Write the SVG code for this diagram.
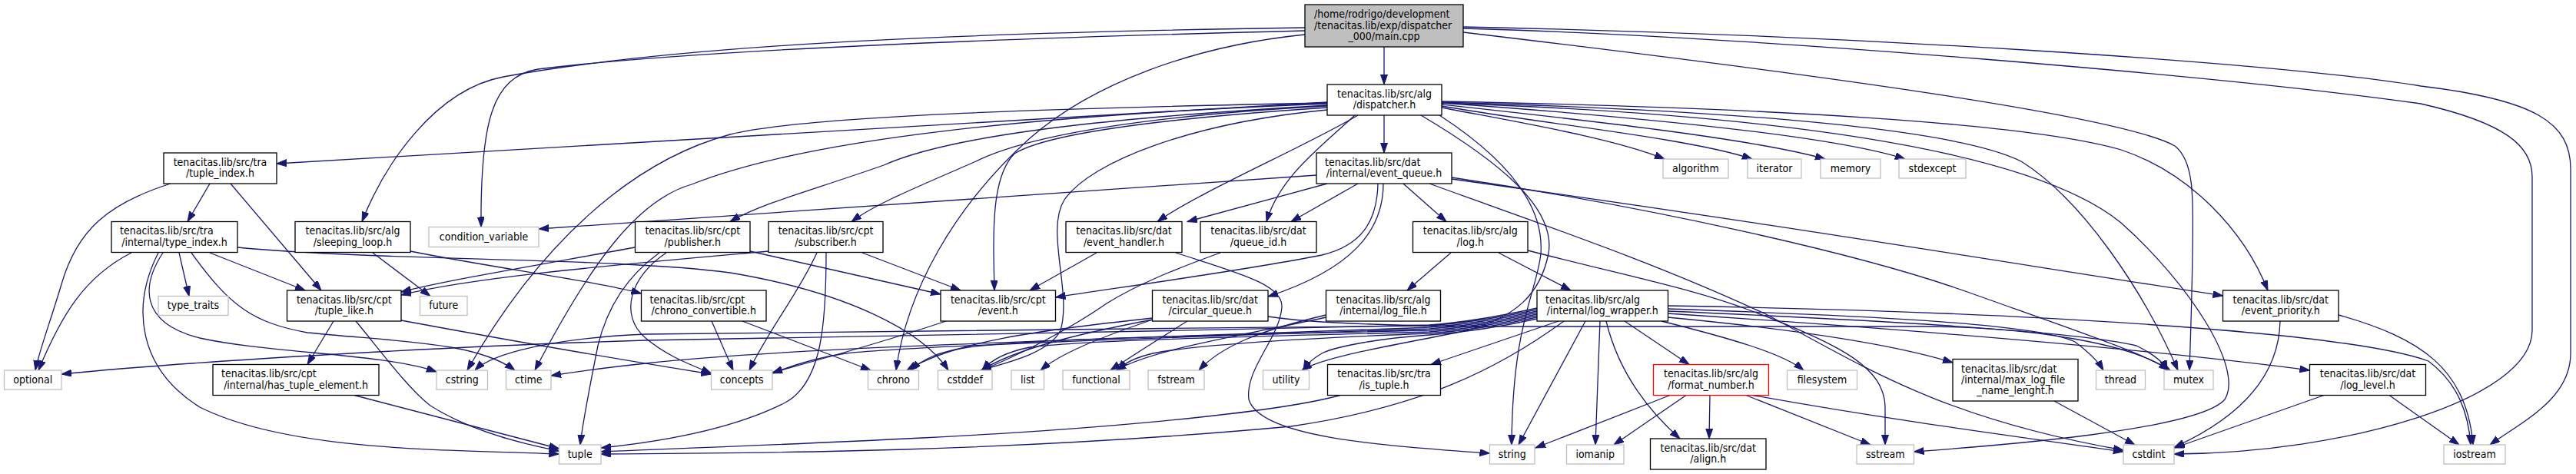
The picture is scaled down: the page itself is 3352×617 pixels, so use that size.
<svg xmlns="http://www.w3.org/2000/svg" width="3352" height="617" viewBox="0 0 3352 617">
<defs>
<style>
.n{fill:#fff;stroke:#000;stroke-width:1.3}
.x{fill:#fff;stroke:#bfbfbf;stroke-width:1.3}
.m{fill:#bfbfbf;stroke:#000;stroke-width:1.3}
.r{fill:#fff;stroke:#f00;stroke-width:1.3}
text{font-family:"DejaVu Sans Condensed","DejaVu Sans","Liberation Sans",sans-serif;font-stretch:condensed;font-size:14px;fill:#000}
.c{text-anchor:middle}
#edges path{fill:none;stroke:#191970;stroke-width:1.3;marker-end:url(#a)}
</style>
<marker id="a" markerUnits="userSpaceOnUse" markerWidth="14" markerHeight="10" refX="13" refY="4.5" orient="auto"><path d="M0,0L13,4.5L0,9z" fill="#191970" stroke="#191970" stroke-width="1"/></marker>
</defs>
<rect width="3352" height="617" fill="#fff"/>
<g id="edges">
<path d="M1801,61 L1801,110"/>
<path d="M1698,36 C1300,42 900,55 655,100 C565,117 500,215 471,288.5"/>
<path d="M1698,40 C1300,50 900,65 700,90 C640,100 625,160 626,295.5"/>
<path d="M1698,45 C1550,60 1420,110 1340,180 C1240,270 1180,380 1166,482"/>
<path d="M1904,42 C2350,95 2760,150 2830,190 C2856,210 2854,260 2853,330 C2852,400 2850,450 2849,482"/>
<path d="M1904,37 C2300,48 2900,100 3150,135 C3260,160 3295,190 3295,230 L3295,430 C3295,520 3050,590 2829,591"/>
<path d="M1904,35 C2400,45 2950,80 3150,112 C3300,130 3345,160 3345,220 L3345,460 C3345,520 3280,550 3240,579"/>
<path d="M1801,150 L1801,199"/>
<path d="M1727,133 L360,213"/>
<path d="M1727,134 C1400,140 1050,150 950,175 C820,210 700,320 608,482"/>
<path d="M1727,135 C1350,150 1050,180 900,240 C830,260 770,340 696,482"/>
<path d="M1727,137 C1500,150 1250,170 1150,215 C1050,250 990,265 950,288.5"/>
<path d="M1727,138 C1500,150 1340,175 1270,210 C1190,245 1140,265 1108,288.5"/>
<path d="M1727,140 C1500,155 1360,175 1320,200 C1290,230 1292,300 1294,378"/>
<path d="M1727,143 C1550,160 1420,210 1385,260 C1360,300 1395,380 1380,430 C1365,460 1310,472 1276,482"/>
<path d="M1767,150 C1700,190 1560,250 1506,288.5"/>
<path d="M1763,150 C1720,190 1665,230 1648,288.5"/>
<path d="M1876,140 C1980,160 2100,180 2166,207"/>
<path d="M1876,138 C2000,160 2200,180 2280,207"/>
<path d="M1876,136 C2050,155 2280,180 2375,207"/>
<path d="M1876,134 C2100,150 2380,175 2479,207"/>
<path d="M1876,132 C2300,140 2640,160 2760,195 C2850,225 2920,300 2951,378"/>
<path d="M1876,133 C2300,145 2550,170 2630,210 C2710,260 2790,380 2834,482"/>
<path d="M1876,134 C2350,150 2650,200 2760,290 C2850,370 2920,480 2895,520 C2860,560 2600,580 2490.5,588"/>
<path d="M1873,150 C1950,200 2010,260 2005,330 C2000,380 1968,420 1967,579"/>
<path d="M1849,150 C1950,210 2025,270 2015,330 C2005,380 1975,415 1900,432 C1800,452 1720,465 1694,482"/>
<path d="M1713,228 L701,298"/>
<path d="M1727,239 L1545,288.5"/>
<path d="M1767,239 L1680,288.5"/>
<path d="M1826,239 L1882,288.5"/>
<path d="M1793,239 C1792,290 1770,320 1720,332 C1620,352 1450,375 1373.5,387"/>
<path d="M1800,239 C1800,300 1760,350 1650,386"/>
<path d="M1889,233 C2300,290 2600,340 2892.5,385"/>
<path d="M1889,231 C2150,270 2420,330 2560,380 C2700,430 2790,460 2824,482"/>
<path d="M1860,239 C2000,290 2150,340 2300,410 C2430,480 2530,545 2763,586"/>
<path d="M273,239 L244,288.5"/>
<path d="M300,239 L418,378"/>
<path d="M222,239 C140,265 100,300 80,370 C65,420 50,460 46,482"/>
<path d="M171,329 C110,360 80,410 50,482"/>
<path d="M233,329 L246,385.5"/>
<path d="M273,329 L397,378"/>
<path d="M212,329 C185,370 180,420 260,440 C350,460 500,460 568,484"/>
<path d="M206,329 C170,400 180,480 260,530 C380,590 600,585 727.5,591"/>
<path d="M249,329 C300,400 330,420 400,433 C520,445 620,445 670,482"/>
<path d="M309,322 C500,340 800,335 950,355 C1100,380 1200,430 1234,482"/>
<path d="M485,329 L560,385.5"/>
<path d="M534,327 C650,350 770,365 834.5,382"/>
<path d="M826.5,322 C700,345 580,365 522,380"/>
<path d="M976,327 L1224,383"/>
<path d="M867,329 C820,360 805,410 840,440 C870,465 900,475 925.5,486"/>
<path d="M858,329 C815,360 790,400 778,450 C768,500 758,550 755,579"/>
<path d="M1000,327 C800,345 620,360 522,384"/>
<path d="M1063,329 C1040,380 1000,430 975,482"/>
<path d="M1122,329 L1250,378"/>
<path d="M1075,329 C1075,420 1070,500 1020,525 C950,560 860,575 782,583"/>
<path d="M1427,329 L1340,378"/>
<path d="M1530,329 C1610,355 1670,370 1668,400 C1665,440 1620,480 1625,520 C1640,570 1800,580 1938.5,590"/>
<path d="M1588,329 C1530,350 1480,370 1440,395 C1390,430 1320,465 1277,482"/>
<path d="M1888,329 L1831,378"/>
<path d="M1950,329 L2044,378"/>
<path d="M1988,326 C2120,360 2200,375 2280,405 C2400,450 2452,480 2453,530 L2453,579"/>
<path d="M926,418 L954,482"/>
<path d="M966,418 L1133,482"/>
<path d="M434,418 L400,474.5"/>
<path d="M463,418 C490,450 530,505 560,528 C610,560 680,578 727.5,587"/>
<path d="M522,417 C700,450 850,475 925.5,487"/>
<path d="M461,514.5 L727.5,584"/>
<path d="M1231,418 C1150,445 1060,470 1005,485"/>
<path d="M1500,416 C1430,440 1380,460 1354,482"/>
<path d="M1545,418 C1510,440 1470,465 1445,482"/>
<path d="M1500,414 C1350,430 1240,445 1180,482"/>
<path d="M1500,416 C1400,435 1320,455 1277,482"/>
<path d="M1650,412 C1700,420 1800,425 2000,425 L2500,425 C2650,425 2780,450 2822,482"/>
<path d="M1725.5,410 C1640,430 1590,450 1560,482"/>
<path d="M1725.5,413 C1600,440 1500,455 1452,482"/>
<path d="M2028,418 L1862,474.5"/>
<path d="M2114,418 L2198,474.5"/>
<path d="M2162,418 C2250,440 2320,460 2347,482"/>
<path d="M2063,418 L1976,579"/>
<path d="M2082,418 L2076,579"/>
<path d="M2090,418 C2105,480 2140,530 2186,571"/>
<path d="M2035,418 C1950,480 1850,530 1680,555 C1300,590 950,590 782,591"/>
<path d="M1744,514.5 C1650,540 1400,560 1200,570 C1000,580 850,585 782,588"/>
<path d="M2000,401 C1950,412 1900,420 1860,423 C1500,432 1000,440 840,443 C600,450 250,470 80,487"/>
<path d="M2000,403 C1950,414 1900,421 1860,424 C1500,428 1000,432 840,435 C720,440 640,460 618,482"/>
<path d="M2000,405 C1950,416 1900,423 1860,426 C1500,440 1050,450 840,473 C790,478 750,484 717,489"/>
<path d="M2000,407 C1950,418 1900,425 1860,428 C1500,440 1200,450 1100,460 C1060,466 1030,476 1005,486"/>
<path d="M2000,409 C1950,420 1900,427 1860,430 C1600,436 1350,440 1260,452 C1220,458 1200,468 1185,482"/>
<path d="M2000,411 C1950,422 1900,429 1860,432 C1650,438 1420,442 1340,452 C1310,458 1290,468 1278,482"/>
<path d="M2000,413 C1950,424 1900,431 1860,434 C1700,440 1560,448 1500,460 C1475,466 1462,473 1455,482"/>
<path d="M2000,415 C1950,426 1900,433 1860,436 C1800,440 1740,450 1720,460 C1708,467 1700,474 1696,482"/>
<path d="M2170,413 C2350,430 2470,450 2541,472"/>
<path d="M2170,402 C2400,410 2650,420 2700,445 C2720,460 2730,470 2737,482"/>
<path d="M2170,405 C2400,415 2700,430 2780,450 C2800,460 2815,470 2820,482"/>
<path d="M2170,408 C2500,430 2800,455 3005.5,482"/>
<path d="M2170,398 C2600,405 3050,430 3160,470 C3200,500 3212,540 3215,579"/>
<path d="M2173,514.5 L1998,583"/>
<path d="M2194,514.5 L2100,579"/>
<path d="M2225,514.5 L2224,571"/>
<path d="M2272,514.5 L2434,579"/>
<path d="M2281,514.5 C2450,545 2600,565 2763,588"/>
<path d="M2673,522 L2778,579"/>
<path d="M2967,418 C2965,500 2900,550 2829.5,582"/>
<path d="M3043,410 C3150,440 3210,480 3218,579"/>
<path d="M3024,514.5 L2829.5,583"/>
<path d="M3109,514.5 L3200,579"/>
</g>
<g id="main"><rect class="m" x="1698" y="6" width="206" height="55"/><text x="1710" y="23.3">/home/rodrigo/development</text><text x="1710" y="37.5">/tenacitas.lib/exp/dispatcher</text><text class="c" x="1801" y="51.7">_000/main.cpp</text></g>
<g id="dispatcher"><rect class="n" x="1727" y="110" width="149" height="40"/><text class="c" x="1801.5" y="126.9">tenacitas.lib/src/alg</text><text class="c" x="1801.5" y="141.1">/dispatcher.h</text></g>
<g id="tuple_index"><rect class="n" x="213" y="199" width="147" height="40"/><text class="c" x="286.5" y="215.9">tenacitas.lib/src/tra</text><text class="c" x="286.5" y="230.1">/tuple_index.h</text></g>
<g id="event_queue"><rect class="n" x="1713" y="199" width="176" height="40"/><text x="1724" y="215.9">tenacitas.lib/src/dat</text><text class="c" x="1801" y="230.1">/internal/event_queue.h</text></g>
<g id="algorithm"><rect class="x" x="2164" y="207" width="85" height="25"/><text class="c" x="2206.5" y="223.5">algorithm</text></g>
<g id="iterator"><rect class="x" x="2274" y="207" width="70" height="25"/><text class="c" x="2309" y="223.5">iterator</text></g>
<g id="memory"><rect class="x" x="2369" y="207" width="78" height="25"/><text class="c" x="2408" y="223.5">memory</text></g>
<g id="stdexcept"><rect class="x" x="2471" y="207" width="87" height="25"/><text class="c" x="2514.5" y="223.5">stdexcept</text></g>
<g id="type_index"><rect class="n" x="145" y="288.5" width="164" height="40"/><text x="156" y="305.4">tenacitas.lib/src/tra</text><text class="c" x="227" y="319.6">/internal/type_index.h</text></g>
<g id="sleeping_loop"><rect class="n" x="384" y="288.5" width="150" height="40"/><text class="c" x="459" y="305.4">tenacitas.lib/src/alg</text><text class="c" x="459" y="319.6">/sleeping_loop.h</text></g>
<g id="condition_variable"><rect class="x" x="558" y="295.5" width="143" height="26"/><text class="c" x="629.5" y="312.5">condition_variable</text></g>
<g id="publisher"><rect class="n" x="826.5" y="288.5" width="149.5" height="40"/><text class="c" x="901.25" y="305.4">tenacitas.lib/src/cpt</text><text class="c" x="901.25" y="319.6">/publisher.h</text></g>
<g id="subscriber"><rect class="n" x="1000" y="288.5" width="149" height="40"/><text class="c" x="1074.5" y="305.4">tenacitas.lib/src/cpt</text><text class="c" x="1074.5" y="319.6">/subscriber.h</text></g>
<g id="event_handler"><rect class="n" x="1387" y="288.5" width="151" height="40"/><text class="c" x="1462.5" y="305.4">tenacitas.lib/src/dat</text><text class="c" x="1462.5" y="319.6">/event_handler.h</text></g>
<g id="queue_id"><rect class="n" x="1562" y="288.5" width="151" height="40"/><text class="c" x="1637.5" y="305.4">tenacitas.lib/src/dat</text><text class="c" x="1637.5" y="319.6">/queue_id.h</text></g>
<g id="log"><rect class="n" x="1838.5" y="288.5" width="149.5" height="40"/><text class="c" x="1913.25" y="305.4">tenacitas.lib/src/alg</text><text class="c" x="1913.25" y="319.6">/log.h</text></g>
<g id="type_traits"><rect class="x" x="206" y="385.5" width="91" height="25"/><text class="c" x="251.5" y="402">type_traits</text></g>
<g id="tuple_like"><rect class="n" x="373.5" y="378" width="148.5" height="40"/><text class="c" x="447.75" y="394.9">tenacitas.lib/src/cpt</text><text class="c" x="447.75" y="409.1">/tuple_like.h</text></g>
<g id="future"><rect class="x" x="546.5" y="385.5" width="61.5" height="25"/><text class="c" x="577.25" y="402">future</text></g>
<g id="chrono_convertible"><rect class="n" x="834.5" y="378" width="162.5" height="40"/><text x="845.5" y="394.9">tenacitas.lib/src/cpt</text><text class="c" x="915.75" y="409.1">/chrono_convertible.h</text></g>
<g id="event"><rect class="n" x="1224" y="378" width="149.5" height="40"/><text class="c" x="1298.75" y="394.9">tenacitas.lib/src/cpt</text><text class="c" x="1298.75" y="409.1">/event.h</text></g>
<g id="circular_queue"><rect class="n" x="1499.5" y="378" width="150.5" height="40"/><text class="c" x="1574.75" y="394.9">tenacitas.lib/src/dat</text><text class="c" x="1574.75" y="409.1">/circular_queue.h</text></g>
<g id="log_file"><rect class="n" x="1725.5" y="378" width="149" height="40"/><text class="c" x="1800" y="394.9">tenacitas.lib/src/alg</text><text class="c" x="1800" y="409.1">/internal/log_file.h</text></g>
<g id="log_wrapper"><rect class="n" x="2000" y="378" width="170.5" height="40"/><text x="2011" y="394.9">tenacitas.lib/src/alg</text><text class="c" x="2085.25" y="409.1">/internal/log_wrapper.h</text></g>
<g id="event_priority"><rect class="n" x="2892.5" y="378" width="150.5" height="40"/><text class="c" x="2967.75" y="394.9">tenacitas.lib/src/dat</text><text class="c" x="2967.75" y="409.1">/event_priority.h</text></g>
<g id="optional"><rect class="x" x="5.5" y="482" width="74.5" height="25"/><text class="c" x="42.75" y="498.5">optional</text></g>
<g id="has_tuple_element"><rect class="n" x="277" y="474.5" width="216" height="40"/><text x="288" y="491.4">tenacitas.lib/src/cpt</text><text class="c" x="385" y="505.6">/internal/has_tuple_element.h</text></g>
<g id="cstring"><rect class="x" x="568" y="482" width="66.5" height="25"/><text class="c" x="601.25" y="498.5">cstring</text></g>
<g id="ctime"><rect class="x" x="658.5" y="482" width="58.5" height="25"/><text class="c" x="687.75" y="498.5">ctime</text></g>
<g id="concepts"><rect class="x" x="925.5" y="482" width="79.5" height="25"/><text class="c" x="965.25" y="498.5">concepts</text></g>
<g id="chrono"><rect class="x" x="1129.5" y="482" width="66" height="25"/><text class="c" x="1162.5" y="498.5">chrono</text></g>
<g id="cstddef"><rect class="x" x="1220.5" y="482" width="70.5" height="25"/><text class="c" x="1255.75" y="498.5">cstddef</text></g>
<g id="list"><rect class="x" x="1316" y="482" width="42.5" height="25"/><text class="c" x="1337.25" y="498.5">list</text></g>
<g id="functional"><rect class="x" x="1383" y="482" width="87" height="25"/><text class="c" x="1426.5" y="498.5">functional</text></g>
<g id="fstream"><rect class="x" x="1494" y="482" width="73" height="25"/><text class="c" x="1530.5" y="498.5">fstream</text></g>
<g id="utility"><rect class="x" x="1643.5" y="482" width="60" height="25"/><text class="c" x="1673.5" y="498.5">utility</text></g>
<g id="is_tuple"><rect class="n" x="1727.5" y="474.5" width="147" height="40"/><text class="c" x="1801" y="491.4">tenacitas.lib/src/tra</text><text class="c" x="1801" y="505.6">/is_tuple.h</text></g>
<g id="format_number"><rect class="r" x="2151.5" y="474.5" width="150" height="40"/><text class="c" x="2226.5" y="491.4">tenacitas.lib/src/alg</text><text class="c" x="2226.5" y="505.6">/format_number.h</text></g>
<g id="filesystem"><rect class="x" x="2325.5" y="482" width="91" height="25"/><text class="c" x="2371" y="498.5">filesystem</text></g>
<g id="max_log_file_name_lenght"><rect class="n" x="2541" y="467.5" width="163" height="54.5"/><text x="2552" y="484.8">tenacitas.lib/src/dat</text><text x="2552" y="499">/internal/max_log_file</text><text class="c" x="2622.5" y="513.2">_name_lenght.h</text></g>
<g id="thread"><rect class="x" x="2727.5" y="482" width="64" height="25"/><text class="c" x="2759.5" y="498.5">thread</text></g>
<g id="mutex"><rect class="x" x="2816" y="482" width="64" height="25"/><text class="c" x="2848" y="498.5">mutex</text></g>
<g id="log_level"><rect class="n" x="3005.5" y="474.5" width="151" height="40"/><text class="c" x="3081" y="491.4">tenacitas.lib/src/dat</text><text class="c" x="3081" y="505.6">/log_level.h</text></g>
<g id="tuple"><rect class="x" x="727.5" y="579" width="54.5" height="25"/><text class="c" x="754.75" y="595.5">tuple</text></g>
<g id="string"><rect class="x" x="1938.5" y="579" width="58.5" height="25"/><text class="c" x="1967.75" y="595.5">string</text></g>
<g id="iomanip"><rect class="x" x="2038.5" y="579" width="74.5" height="25"/><text class="c" x="2075.75" y="595.5">iomanip</text></g>
<g id="align"><rect class="n" x="2147.5" y="571" width="150.5" height="40"/><text class="c" x="2222.75" y="587.9">tenacitas.lib/src/dat</text><text class="c" x="2222.75" y="602.1">/align.h</text></g>
<g id="sstream"><rect class="x" x="2416" y="579" width="74.5" height="25"/><text class="c" x="2453.25" y="595.5">sstream</text></g>
<g id="cstdint"><rect class="x" x="2763" y="579" width="66" height="25"/><text class="c" x="2796" y="595.5">cstdint</text></g>
<g id="iostream"><rect class="x" x="3180" y="579" width="80" height="25"/><text class="c" x="3220" y="595.5">iostream</text></g>
</svg>
